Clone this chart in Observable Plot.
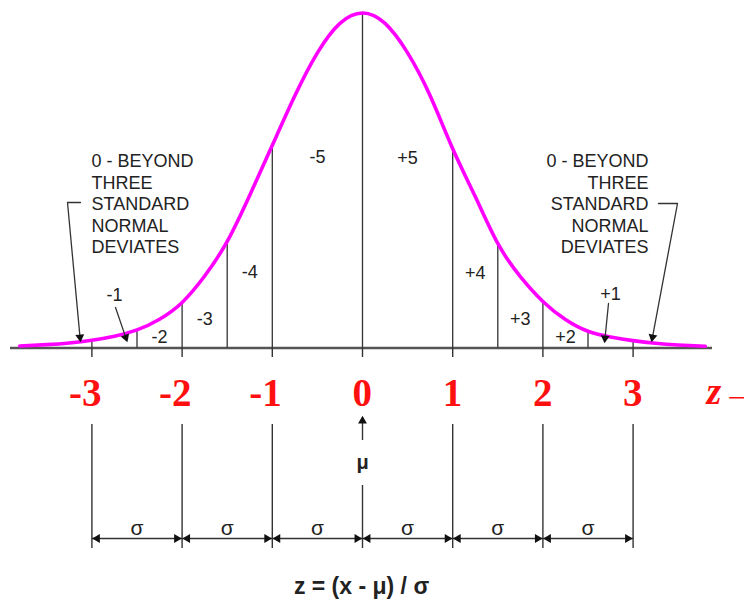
<!DOCTYPE html>
<html><head><meta charset="utf-8">
<script src="https://cdn.jsdelivr.net/npm/d3@7"></script>
<script src="https://cdn.jsdelivr.net/npm/@observablehq/plot@0.6"></script>
<style>html,body{margin:0;padding:0;background:#fff}</style>
</head><body><div id="chart"></div>
<script>
// ---- data ----
// curve: z position and height of the curve in % of its peak
const curveZ = [-3.8,-3.5,-3.25,-3,-2.75,-2.5,-2.25,-2,-1.75,-1.5,-1.25,-1,-0.75,-0.5,-0.25,0,0.25,0.5,0.75,1,1.25,1.5,1.75,2,2.25,2.5,2.75,3,3.25,3.5,3.8];
const curveH = [0.6,1.0,1.5,2.3,3.5,5.4,8.6,13.6,21.5,31.8,45.6,60.5,75.3,88.1,96.9,100,96.9,88.1,75.3,59.5,45.2,31.2,21.3,13.9,8.5,5.0,3.3,2.2,1.4,0.9,0.5];
const dividerZ = [-3,-2.5,-2,-1.5,-1,0,1,1.5,2,2.5,3];
const segmentLabels = ["-1","-2","-3","-4","-5","+5","+4","+3","+2","+1"];
const tickValues = [-3,-2,-1,0,1,2,3];
const tickLabels = ["-3","-2","-1","0","1","2","3"];
const sigmaStarts = [-3,-2,-1,0,1,2];
const sigmaEnds = [-2,-1,0,1,2,3];
const sigmaLabel = "σ";
const noteLines = ["0 - BEYOND","THREE","STANDARD","NORMAL","DEVIATES"];
const meanLabel = "μ";
const formula = "z = (x - μ) / σ";
const axisName = "z→";

// ---- layout helpers (pixel -> data units) ----
const W = 744, H = 599;
const X0 = 362, PPU = 90.2, Y0 = 347.5, PPY = 3.35;
const ux = p => (p - X0) / PPU;
const uy = p => (Y0 - p) / PPY;

const curve = curveZ.map((z, i) => ({z, h: curveH[i]}));
const hAt = z => curveH[curveZ.indexOf(z)];
const dividers = dividerZ.map(z => ({z, h: hAt(z)}));
const segLabelPy = [295,337,319,272,157,158,273,319,337,294];
const segments = segmentLabels.map((t, i) => ({
  t, z: (dividerZ[i] + dividerZ[i + 1]) / 2, y: uy(segLabelPy[i])
}));
const ticks = tickValues.map((z, i) => ({z, t: tickLabels[i]}));
const sigmas = sigmaStarts.map((a, i) => ({a, b: sigmaEnds[i], m: (a + sigmaEnds[i]) / 2}));

// annotation arrows (pixel paths, last point is the tip)
const leaders = [
  [[80,202],[67,202],[80,342]],
  [[658,203],[677,203],[651,342]],
  [[115,307],[127,342]],
  [[608,303],[604,343]]
];
const TIP = 5.4, BASE = 7;
const leaderPts = [], heads = [];
leaders.forEach((pts, k) => {
  const n = pts.length;
  const [sx, sy] = pts[n - 2], [tx, ty] = pts[n - 1];
  const L = Math.hypot(tx - sx, ty - sy), dx = (tx - sx) / L, dy = (ty - sy) / L;
  pts.slice(0, n - 1).forEach(p => leaderPts.push({k, x: ux(p[0]), y: uy(p[1])}));
  leaderPts.push({k, x: ux(tx - dx * BASE), y: uy(ty - dy * BASE)});
  heads.push({x: ux(tx - dx * TIP), y: uy(ty - dy * TIP), r: Math.atan2(dx, -dy) * 180 / Math.PI});
});

const LINE = "#333";
const TXT = "#222";
const sans = "Liberation Sans, Arial, sans-serif";
const serif = "Liberation Serif, Times New Roman, serif";

const chart = Plot.plot({
  width: W, height: H, margin: 0,
  x: {domain: [ux(0), ux(W)], axis: null},
  y: {domain: [uy(H), uy(0)], axis: null},
  style: {background: "#fff"},
  marks: [
    Plot.ruleY([0], {x1: ux(10), x2: ux(712), stroke: "#555", strokeWidth: 2.6}),
    Plot.ruleX(ticks, {x: "z", y1: 0, y2: uy(357), stroke: LINE, strokeWidth: 1.4}),
    Plot.ruleX(dividers, {x: "z", y1: 0, y2: "h", stroke: LINE, strokeWidth: 1.3}),
    Plot.line(curve, {x: "z", y: "h", curve: "natural", stroke: "#ff00ff", strokeWidth: 3.6, strokeLinecap: "round"}),
    Plot.text(segments, {x: "z", y: "y", text: "t", fontSize: 18, fontFamily: sans, fill: TXT}),
    Plot.text([noteLines.join("\n")], {x: ux(91), y: uy(203), text: d => d, textAnchor: "start", lineAnchor: "middle", lineHeight: 1.195, fontSize: 18, fontFamily: sans, fill: TXT}),
    Plot.text([noteLines.join("\n")], {x: ux(648), y: uy(203), text: d => d, textAnchor: "end", lineAnchor: "middle", lineHeight: 1.195, fontSize: 18, fontFamily: sans, fill: TXT}),
    Plot.line(leaderPts, {x: "x", y: "y", z: "k", stroke: LINE, strokeWidth: 1.3}),
    Plot.dot(heads, {x: "x", y: "y", rotate: "r", symbol: "triangle", r: 3.3, fill: "#111", stroke: null}),
    Plot.text(ticks, {x: "z", y: uy(405), text: "t", textAnchor: "end", dx: 9.5, lineAnchor: "bottom", fontSize: 39, fontWeight: "bold", fontFamily: serif, fill: "#ff1010"}),
    Plot.text([axisName], {x: ux(706), y: uy(403), text: d => d, textAnchor: "start", lineAnchor: "bottom", fontSize: 38, fontStyle: "italic", fontWeight: "bold", fontFamily: serif, fill: "#ff1010"}),
    Plot.ruleX(tickValues.filter(z => z !== 0), {x: d => d, y1: uy(424), y2: uy(548), stroke: LINE, strokeWidth: 1.4}),
    Plot.ruleX([0], {x: d => d, y1: uy(485), y2: uy(548), stroke: LINE, strokeWidth: 1.4}),
    Plot.ruleX([0], {x: d => d, y1: uy(440), y2: uy(421), stroke: LINE, strokeWidth: 1.4}),
    Plot.dot([0], {x: d => d, y: uy(415), dy: TIP, symbol: "triangle", r: 3.3, fill: "#111", stroke: null}),
    Plot.text([meanLabel], {x: 0, y: uy(462), text: d => d, fontSize: 20, fontWeight: "bold", fontFamily: sans, fill: TXT}),
    Plot.link(sigmas, {x1: "a", x2: "b", y1: uy(538), y2: uy(538), stroke: LINE, strokeWidth: 1.4}),
    Plot.dot(sigmas, {x: "a", y: uy(538), dx: TIP, rotate: -90, symbol: "triangle", r: 3.3, fill: "#111", stroke: null}),
    Plot.dot(sigmas, {x: "b", y: uy(538), dx: -TIP, rotate: 90, symbol: "triangle", r: 3.3, fill: "#111", stroke: null}),
    Plot.text(sigmas, {x: "m", y: uy(528), text: () => sigmaLabel, fontSize: 21, fontFamily: sans, fill: TXT}),
    Plot.text([formula], {x: ux(361), y: uy(593), text: d => d, lineAnchor: "bottom", fontSize: 23, fontWeight: "bold", fontFamily: sans, fill: TXT})
  ]
});
document.getElementById("chart").append(chart);
</script>
</body></html>
